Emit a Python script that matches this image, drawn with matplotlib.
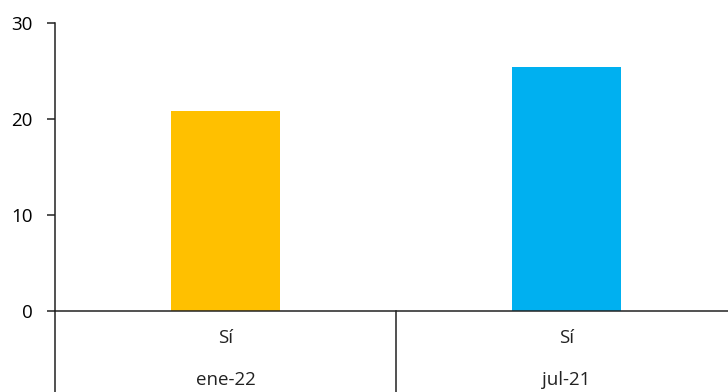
import numpy as np
import matplotlib.pyplot as plt

# datos
groups = ['ene-22', 'jul-21']
sub_labels = ['Sí', 'Sí']
values = [20.8, 25.4]
colors = ['#FFC000', '#00B0F0']
yticks = [0, 10, 20, 30]

plt.rcParams['font.family'] = ['Open Sans', 'DejaVu Sans']

fig = plt.figure(figsize=(7.28, 3.92), dpi=100)
# el eje se extiende un poco más allá del borde derecho
ax = fig.add_axes([55 / 728, 1 - 311 / 392, (737 - 55) / 728, (311 - 23) / 392])

x = np.arange(len(groups))
ax.bar(x, values, width=0.32, color=colors)

ax.set_xlim(-0.5, len(groups) - 0.5)
ax.set_ylim(0, 30)
ax.set_yticks(yticks)
ax.tick_params(axis='y', length=6, width=1.1, labelsize=13.5, pad=10, color='#222222')
ax.tick_params(axis='x', bottom=False, labelbottom=False)

for s in ['top', 'right']:
    ax.spines[s].set_visible(False)
for s in ['left', 'bottom']:
    ax.spines[s].set_linewidth(1.1)
    ax.spines[s].set_color('#222222')

# etiquetas de categoría en dos niveles
trans = ax.get_xaxis_transform()
for xi, sub, grp in zip(x, sub_labels, groups):
    ax.text(xi, -0.095, sub, transform=trans, ha='center', va='center', fontsize=13.5, color='#222222')
    ax.text(xi, -0.24, grp, transform=trans, ha='center', va='center', fontsize=13.5, color='#222222')

for sep in np.arange(len(groups) + 1) - 0.5:
    ax.plot([sep, sep], [0, -0.3], transform=trans, color='#222222', lw=1.1, clip_on=False)

fig.savefig('out.png', dpi=100)
